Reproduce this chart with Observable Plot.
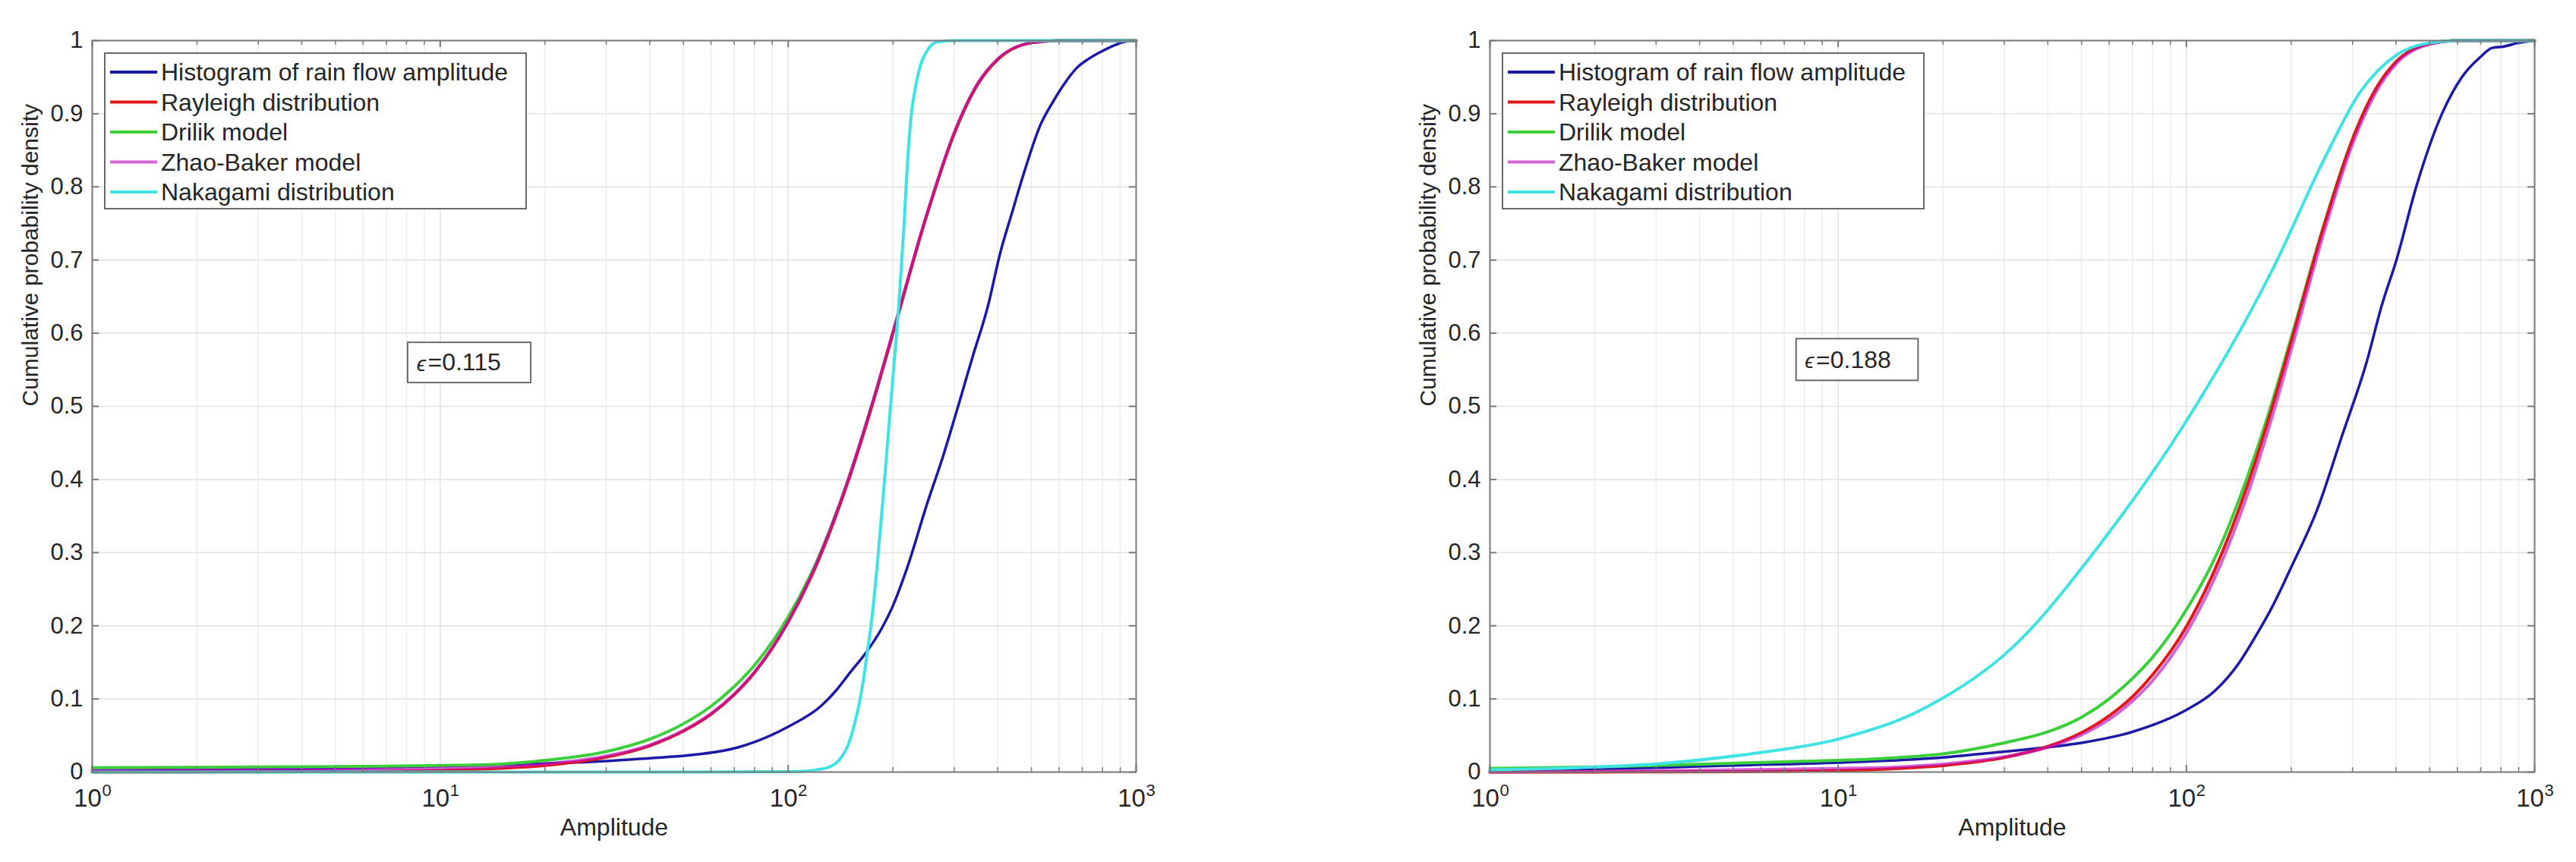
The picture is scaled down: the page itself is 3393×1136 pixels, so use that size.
<!DOCTYPE html>
<html><head><meta charset="utf-8">
<script src="https://cdn.jsdelivr.net/npm/d3@7"></script>
<script src="https://cdn.jsdelivr.net/npm/@observablehq/plot@0.6"></script>
<style>
body{margin:0;background:#fff;}
#wrap{position:relative;width:3393px;height:1136px;}
#wrap svg{position:absolute;top:0;}
</style></head><body><div id="wrap"></div>
<script>
// ---------- axis tick values / labels ----------
const yTicks = [0, 0.1, 0.2, 0.3, 0.4, 0.5, 0.6, 0.7, 0.8, 0.9, 1];
const yTickLabels = ["0", "0.1", "0.2", "0.3", "0.4", "0.5", "0.6", "0.7", "0.8", "0.9", "1"];
const xMajor = [1, 10, 100, 1000];
const xExponents = ["0", "1", "2", "3"];
const xMinor = [2, 3, 4, 5, 6, 7, 8, 9, 20, 30, 40, 50, 60, 70, 80, 90, 200, 300, 400, 500, 600, 700, 800, 900];

const seriesNames = ["Histogram of rain flow amplitude", "Rayleigh distribution", "Drilik model", "Zhao-Baker model", "Nakagami distribution"];

// ---------- shared amplitude grid for model curves ----------
const modelX = [1, 2, 3, 5, 7, 10, 15, 20, 30, 40, 50, 60, 70, 80, 100, 120, 150, 180, 200, 250, 300, 350, 400, 500, 600, 700, 1000];

// ---------- left panel (epsilon = 0.115) ----------
const histX_L = [1, 3, 5, 10, 15, 24, 30, 40, 52, 72, 100, 124, 137, 150, 169, 185, 199, 220, 250, 280, 310, 340, 374, 407, 440, 473, 531, 578, 620, 673, 730, 794, 870, 937, 1000];
const histY_L = [0.002, 0.004, 0.005, 0.008, 0.010, 0.013, 0.015, 0.019, 0.023, 0.034, 0.062, 0.090, 0.111, 0.135, 0.166, 0.195, 0.225, 0.280, 0.365, 0.435, 0.505, 0.570, 0.635, 0.710, 0.765, 0.815, 0.885, 0.917, 0.940, 0.962, 0.975, 0.985, 0.994, 0.999, 1.000];
const rayleighY_L = [0.000, 0.0001, 0.0002, 0.0006, 0.0011, 0.0023, 0.0051, 0.0091, 0.0204, 0.036, 0.056, 0.079, 0.106, 0.136, 0.205, 0.281, 0.403, 0.524, 0.600, 0.761, 0.873, 0.940, 0.974, 0.997, 1.000, 1.000, 1.000];
const drilikY_L = [0.006, 0.0065, 0.007, 0.0075, 0.008, 0.009, 0.011, 0.016, 0.028, 0.045, 0.066, 0.090, 0.117, 0.146, 0.212, 0.285, 0.405, 0.525, 0.600, 0.761, 0.873, 0.940, 0.974, 0.997, 1.000, 1.000, 1.000];
const zhaoY_L = [0.002, 0.0025, 0.003, 0.0035, 0.004, 0.005, 0.007, 0.011, 0.022, 0.037, 0.057, 0.080, 0.107, 0.137, 0.206, 0.283, 0.405, 0.526, 0.602, 0.762, 0.874, 0.941, 0.975, 0.997, 1.000, 1.000, 1.000];
const nakX_L = [1, 50, 100, 110, 120, 130, 137, 143, 149, 155, 161, 165, 169, 173, 180, 187, 193, 200, 208, 215, 220, 226, 233, 241, 250, 267, 300, 1000];
const nakY_L = [0.000, 0.000, 0.0005, 0.001, 0.003, 0.006, 0.012, 0.022, 0.038, 0.065, 0.100, 0.130, 0.166, 0.200, 0.280, 0.370, 0.450, 0.540, 0.640, 0.744, 0.830, 0.900, 0.940, 0.969, 0.985, 0.998, 1.000, 1.000];

// ---------- right panel (epsilon = 0.188) ----------
const histX_R = [1, 3, 5, 10, 20, 30, 40, 50, 70, 100, 120, 142, 160, 176, 200, 238, 280, 329, 365, 401, 457, 542, 618, 700, 755, 817, 900, 1000];
const histY_R = [0.003, 0.006, 0.009, 0.013, 0.020, 0.028, 0.034, 0.040, 0.055, 0.085, 0.110, 0.150, 0.190, 0.225, 0.280, 0.360, 0.460, 0.560, 0.640, 0.700, 0.800, 0.900, 0.950, 0.978, 0.990, 0.992, 0.997, 1.000];
const rayleighY_R = [0.000, 0.0001, 0.0002, 0.0006, 0.0011, 0.0022, 0.005, 0.0089, 0.0198, 0.035, 0.054, 0.077, 0.103, 0.133, 0.199, 0.274, 0.393, 0.513, 0.589, 0.751, 0.865, 0.934, 0.971, 0.996, 1.000, 1.000, 1.000];
const drilikY_R = [0.005, 0.007, 0.009, 0.012, 0.014, 0.016, 0.020, 0.025, 0.040, 0.055, 0.075, 0.100, 0.128, 0.157, 0.222, 0.290, 0.405, 0.520, 0.594, 0.753, 0.866, 0.934, 0.971, 0.996, 1.000, 1.000, 1.000];
const zhaoY_R = [0.000, 0.001, 0.002, 0.003, 0.004, 0.005, 0.007, 0.011, 0.021, 0.034, 0.051, 0.072, 0.097, 0.125, 0.190, 0.263, 0.380, 0.500, 0.577, 0.742, 0.858, 0.929, 0.968, 0.995, 1.000, 1.000, 1.000];
const nakX_R = [1, 1.78, 3.16, 5.62, 10, 17.8, 31.6, 56.2, 100, 178, 250, 316, 400, 500, 600, 1000];
const nakY_R = [0.003, 0.006, 0.012, 0.025, 0.045, 0.088, 0.170, 0.310, 0.480, 0.690, 0.840, 0.930, 0.980, 0.997, 1.000, 1.000];

const epsLabels = ["0.115", "0.188"];

// ---------- styling / layout (not data) ----------
// legend order: hist, Rayleigh, Drilik, Zhao-Baker, Nakagami
const colors = ["#1a1aa6", "#e01818", "#3ccf3c", "#c010c0", "#3fe3e3"];
const opacities = [1, 1, 1, 0.65, 1];
const drawOrder = [0, 2, 1, 3, 4];
const FONT = "'Liberation Sans', Arial, Helvetica, sans-serif";
const H = 1136, MT = 53, MB = 119;
const annot = [
  {box: {x1: 8.08, x2: 18.25, y1: 0.532, y2: 0.587}, epsX: 8.55, numX: 9.21},
  {box: {x1: 7.59, x2: 17.0, y1: 0.535, y2: 0.592}, epsX: 8.02, numX: 8.64}
];
const panels = [
  {left: 0, width: 1700, ml: 121, mr: 204},
  {left: 1700, width: 1693, ml: 262, mr: 55}
];

const toPts = (xs, ys) => xs.map((x, i) => ({x, y: ys[i]}));
const panelData = [
  [toPts(histX_L, histY_L), toPts(modelX, rayleighY_L), toPts(modelX, drilikY_L), toPts(modelX, zhaoY_L), toPts(nakX_L, nakY_L)],
  [toPts(histX_R, histY_R), toPts(modelX, rayleighY_R), toPts(modelX, drilikY_R), toPts(modelX, zhaoY_R), toPts(nakX_R, nakY_R)]
];

const wrap = document.getElementById("wrap");

panels.forEach((P, k) => {
  const fw = P.width - P.ml - P.mr;
  const fh = H - MT - MB;
  const axisColor = "#7a7a7a";
  const marks = [
    Plot.ruleX(xMinor, {stroke: "#ececec", strokeWidth: 1.5}),
    Plot.ruleX(xMajor, {stroke: "#e2e2e2", strokeWidth: 1.5}),
    Plot.ruleY(yTicks, {stroke: "#e2e2e2", strokeWidth: 1.5}),
    ...drawOrder.map(i => Plot.line(panelData[k][i], {x: "x", y: "y", stroke: colors[i], strokeOpacity: opacities[i], strokeWidth: i === 0 ? 3.5 : 4, curve: "monotone-x"})),
    // inward ticks
    Plot.ruleY(yTicks, {stroke: axisColor, strokeWidth: 2, insetRight: fw - 9}),
    Plot.ruleY(yTicks, {stroke: axisColor, strokeWidth: 2, insetLeft: fw - 9}),
    Plot.ruleX(xMajor, {stroke: axisColor, strokeWidth: 2, insetTop: fh - 9}),
    Plot.ruleX(xMajor, {stroke: axisColor, strokeWidth: 2, insetBottom: fh - 9}),
    Plot.ruleX(xMinor, {stroke: axisColor, strokeWidth: 1.5, insetTop: fh - 6}),
    Plot.ruleX(xMinor, {stroke: axisColor, strokeWidth: 1.5, insetBottom: fh - 6}),
    Plot.frame({stroke: axisColor, strokeWidth: 2}),
    // y tick labels
    Plot.text(yTicks, {y: d => d, frameAnchor: "left", text: (d, i) => yTickLabels[i], textAnchor: "end", dx: -12, fontSize: 31, fill: "#262626"}),
    // x tick labels 10^n
    Plot.text(xMajor, {x: d => d, frameAnchor: "bottom", text: () => "10", dx: -6, dy: 45, fontSize: 33, fill: "#262626"}),
    Plot.text(xMajor, {x: d => d, frameAnchor: "bottom", text: (d, i) => xExponents[i], dx: 19, dy: 31, fontSize: 22, fill: "#262626"}),
    // axis titles
    Plot.text(["Amplitude"], {frameAnchor: "bottom", text: d => d, dy: 83, fontSize: 32, fill: "#262626"}),
    Plot.text(["Cumulative probability density"], {frameAnchor: "left", text: d => d, rotate: -90, dx: -81, fontSize: 30, fill: "#262626"}),
    // epsilon annotation
    Plot.rect([annot[k].box], {x1: "x1", x2: "x2", y1: "y1", y2: "y2", fill: "white", stroke: "#6a6a6a", strokeWidth: 2}),
    Plot.text([0], {x: () => annot[k].epsX, y: () => (annot[k].box.y1 + annot[k].box.y2) / 2, text: () => "\u03F5", textAnchor: "start", fontSize: 28, fontStyle: "italic", fill: "#262626", dy: 2}),
    Plot.text([0], {x: () => annot[k].numX, y: () => (annot[k].box.y1 + annot[k].box.y2) / 2, text: () => "=" + epsLabels[k], textAnchor: "start", fontSize: 32, fill: "#262626"})
  ];
  const svg = Plot.plot({
    width: P.width, height: H,
    marginLeft: P.ml, marginRight: P.mr, marginTop: MT, marginBottom: MB,
    style: {fontFamily: FONT, background: "white", overflow: "visible"},
    x: {type: "log", domain: [1, 1000], axis: null},
    y: {domain: [0, 1], axis: null},
    marks
  });
  svg.style.left = P.left + "px";
  // legend (inside the axes, top-left, like MATLAB's "northwest")
  const g = d3.select(svg).append("g").attr("font-family", FONT).attr("text-anchor", "start");
  g.append("rect").attr("x", P.ml + 17).attr("y", MT + 17).attr("width", 555).attr("height", 205)
    .attr("fill", "white").attr("stroke", "#6a6a6a").attr("stroke-width", 2);
  seriesNames.forEach((name, i) => {
    const cy = MT + 42 + i * 39.5;
    g.append("line").attr("x1", P.ml + 24).attr("x2", P.ml + 86).attr("y1", cy).attr("y2", cy)
      .attr("stroke", colors[i]).attr("stroke-opacity", opacities[i]).attr("stroke-width", 4);
    g.append("text").attr("x", P.ml + 91).attr("y", cy).attr("dy", "0.35em")
      .attr("text-anchor", "start").attr("font-size", 32).attr("fill", "#262626").text(name);
  });
  wrap.appendChild(svg);
});
</script>
</body></html>
